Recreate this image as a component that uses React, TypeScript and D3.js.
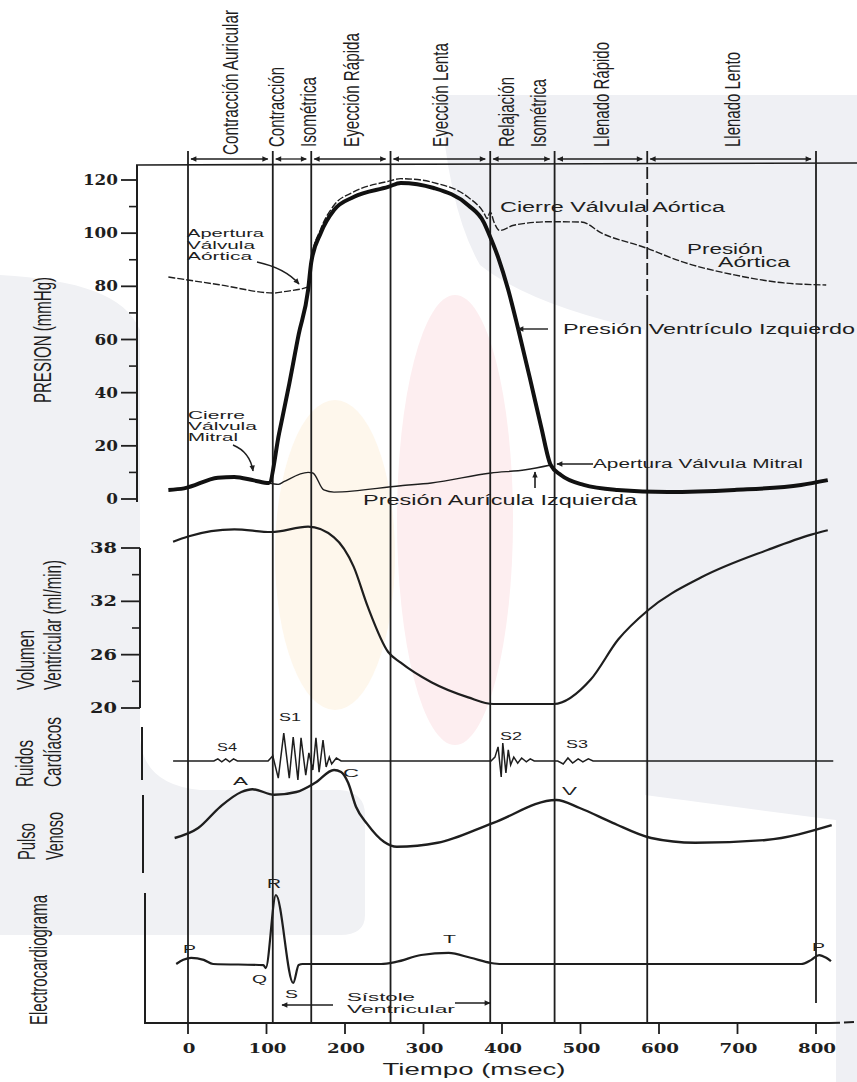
import React from 'react';
import * as d3 from 'd3';

const W = 857;
const H = 1082;

// phase boundaries (msec) and names
const phaseTimes = [0, 108, 157, 258, 385, 467, 585, 800];
const phaseNames = [
  ['Contracción Auricular'],
  ['Contracción', 'Isométrica'],
  ['Eyección Rápida'],
  ['Eyección Lenta'],
  ['Relajación', 'Isométrica'],
  ['Llenado Rápido'],
  ['Llenado Lento'],
];

const timeTicks = [0, 100, 200, 300, 400, 500, 600, 700, 800];
const pressureTicks = [0, 20, 40, 60, 80, 100, 120];
const pressureMinor = [10, 30, 50, 70, 90, 110];
const volumeTicks = [20, 26, 32, 38];
const volumeMinor = [23, 29, 35];

// presion ventriculo izquierdo (mmHg)
const lvT = [-25, -5, 38, 59, 84, 103, 116, 129, 141, 153, 157, 169, 186, 211, 255, 271, 313, 357, 377, 383, 395, 408, 420, 437, 450, 462, 475, 504, 547, 611, 696, 781, 815];
const lvP = [3.4, 4, 8, 8.3, 7, 6, 24.6, 43.3, 61.9, 78.6, 89, 100, 108.7, 113.6, 117.4, 118.9, 117, 110.5, 104, 100, 91, 78.6, 64.7, 43.6, 27, 12.8, 9, 5.3, 3.4, 2.6, 3.4, 5.3, 7.1];

// presion aortica (mmHg)
const aoT = [-25, 40, 110, 122, 153, 157, 169, 186, 211, 255, 271, 297, 313, 357, 377, 381, 385, 390, 397, 415, 460, 501, 527, 580, 632, 696, 759, 813];
const aoP = [83.5, 80.6, 77.5, 78, 79.8, 90, 101.5, 110.5, 115.5, 119.5, 120.5, 120, 119, 113.5, 107.6, 105.5, 108, 104, 101, 103, 104.3, 104.2, 100, 94.8, 89, 84.3, 81.3, 80.5];

// presion auricula izquierda (mmHg)
const laT = [103, 115, 122, 153, 159, 173, 186, 271, 310, 386, 430, 462];
const laP = [6, 5.5, 6.5, 10, 9.8, 3.4, 2.6, 5, 6, 9.8, 11, 12.8];

// volumen ventricular
const volT = [-19, 0, 59, 106, 153, 186, 211, 229, 255, 271, 310, 357, 389, 466, 513, 548, 586, 654, 739, 794, 815];
const volV = [38.7, 39.3, 40.1, 39.8, 40.4, 39.2, 35.9, 31.4, 26.3, 25.1, 22.9, 21.2, 20.45, 20.45, 23.2, 27.7, 31.0, 34.7, 37.8, 39.5, 40.0];

// ruidos cardiacos (amplitud relativa)
const soundT = [-19, 33, 38, 43, 48, 53, 58, 63, 68,
  102, 108, 115, 122, 129, 134, 140, 144, 150, 154, 159, 163, 167, 172, 176, 180, 183, 189, 195,
  386, 391, 395, 399, 401, 405, 408, 411, 415, 420, 425, 431, 436, 441, 446,
  471, 478, 484, 490, 497, 503, 510, 516, 522, 822];
const soundA = [0, 0, 0.07, -0.03, 0.07, -0.03, 0.07, 0, 0,
  0, 0.17, -0.57, 0.93, -0.57, 0.8, -0.63, 0.77, -0.47, 0.27, -0.3, 0.77, -0.37, 0.7, -0.2, 0.13, -0.1, 0.1, 0,
  0, 0.13, 0.47, -0.53, 0.6, -0.4, 0.37, -0.13, 0.13, -0.07, 0.1, -0.03, 0.07, 0, 0,
  0, -0.1, 0.1, -0.07, 0.07, -0.03, 0.07, 0, 0, 0];

// pulso venoso (unidades relativas)
const vpT = [-17, 13, 41, 68, 82, 110, 138, 162, 186, 195, 204, 214, 228, 250, 266, 318, 389, 469, 499, 541, 590, 646, 736, 820];
const vpV = [1.5, 2.75, 5.4, 7.25, 7.6, 6.9, 7.25, 8.4, 10, 9.75, 8.4, 5.4, 3.3, 1.0, 0.4, 0.9, 3.4, 6.25, 5.25, 3.4, 1.5, 0.9, 1.25, 3.1];

// electrocardiograma (mV relativo)
const ecgT = [-15, -6, 4, 20, 32, 96, 99, 112, 134, 141, 146, 246, 265, 297, 332, 360, 386, 399, 781, 794, 804, 813, 819];
const ecgV = [0, 0.06, 0.09, 0.06, 0, -0.015, -0.06, 1.0, -0.275, -0.015, 0, 0, 0.03, 0.13, 0.16, 0.09, 0.015, 0, 0, 0.06, 0.13, 0.09, 0.04];

const ink = '#1e1e1e';
const sans = '"Liberation Sans", Arial, sans-serif';
const serif = '"DejaVu Serif", serif';

function Txt({ x, y, text, size, len, rot = false, sx = 1, anchor = 'start', weight = 'normal', family = sans }: any) {
  const transform = rot
    ? `translate(${x},${y}) scale(${sx},1) rotate(-90)`
    : undefined;
  return (
    <text
      x={rot ? 0 : x}
      y={rot ? 0 : y}
      transform={transform}
      fontSize={size}
      fontFamily={family}
      fontWeight={weight}
      textAnchor={anchor}
      textLength={len}
      lengthAdjust="spacingAndGlyphs"
      fill={ink}
    >
      {text}
    </text>
  );
}

export default function App() {
  const x = d3.scaleLinear().domain([0, 800]).range([188, 816]);
  const yP = d3.scaleLinear().domain([0, 120]).range([499, 180]);
  const yVol = d3.scaleLinear().domain([20, 38]).range([708, 548]);
  const ySnd = d3.scaleLinear().domain([-1, 1]).range([791, 731]);
  const yVen = d3.scaleLinear().domain([0, 10]).range([850, 770]);
  const yEcg = d3.scaleLinear().domain([0, 1]).range([964, 895]);

  const path = (ts: number[], vs: number[], y: any, curve: any = d3.curveMonotoneX) =>
    d3.line<number>().x((_, i) => x(ts[i])).y((d) => y(d)).curve(curve)(vs) || '';

  const arrowY = 159;
  const frameY = 165;
  const phaseX = phaseTimes.map((t) => x(t));
  const phaseLen = [[145], [80, 70], [114], [104], [70, 68], [105], [95]];
  const rs = 1.55;

  return (
    <svg width={W} height={H} style={{ position: 'absolute', left: 0, top: 0, background: '#fff' }}>
      <defs>
        <marker id="ah" viewBox="0 0 10 10" refX="9" refY="5" markerWidth="8" markerHeight="6"
          markerUnits="userSpaceOnUse" orient="auto-start-reverse">
          <path d="M0,0.5 L10,5 L0,9.5 z" fill={ink} />
        </marker>
      </defs>

      {/* marca de agua */}
      <g>
        <path d="M440,95 L857,95 L857,1082 L836,1082 L836,820 Q720,805 645,795 L645,330 Q530,305 480,265 Q448,210 440,95 Z"
          fill="#eff0f4" />
        <path d="M0,275 C80,280 125,295 140,330 L140,740 Q145,785 200,790 L340,790 Q365,792 365,815 L365,915 Q365,935 340,935 L0,935 Z"
          fill="#f0f1f4" />
        <ellipse cx={335} cy={555} rx={60} ry={155} fill="#fef7ec" />
        <ellipse cx={455} cy={520} rx={58} ry={225} fill="#fdeef0" />
      </g>

      {/* lineas de fase */}
      {phaseX.map((px, i) => (
        i === 6 ? (
          <g key={'pl' + i}>
            <line x1={px} x2={px} y1={151} y2={300} stroke={ink} strokeWidth={1.8} strokeDasharray="12,4" />
            <line x1={px} x2={px} y1={300} y2={1023} stroke={ink} strokeWidth={1.8} />
          </g>
        ) : (
          <line key={'pl' + i} x1={px} x2={px} y1={151} y2={i === phaseX.length - 1 ? 1003 : 1023}
            stroke={ink} strokeWidth={1.8} />
        )
      ))}

      {/* flechas de fase */}
      {phaseX.slice(0, -1).map((px, i) => (
        <line key={'pa' + i} x1={px + 3} x2={phaseX[i + 1] - 5} y1={arrowY} y2={arrowY}
          stroke={ink} strokeWidth={1.3} markerStart="url(#ah)" markerEnd="url(#ah)" />
      ))}
      <line x1={136} x2={W} y1={frameY} y2={frameY - 2} stroke={ink} strokeWidth={1.6} />

      {/* etiquetas de fase */}
      {phaseNames.map((names, i) => {
        const mid = (phaseX[i] + phaseX[i + 1]) / 2;
        return names.map((nm, j) => {
          const cx = names.length === 1 ? mid : mid + (j === 0 ? -16 : 16);
          return (
            <Txt key={'pn' + i + j} x={cx + 8} y={i === 0 ? 155 : 147} text={nm} size={14.5}
              len={phaseLen[i][j]} rot sx={rs} />
          );
        });
      })}

      {/* eje de presion */}
      <line x1={137} x2={137} y1={frameY} y2={502} stroke={ink} strokeWidth={2} />
      {pressureTicks.map((v) => (
        <g key={'pt' + v}>
          <line x1={121} x2={137} y1={yP(v)} y2={yP(v)} stroke={ink} strokeWidth={1.8} />
          <Txt x={118} y={yP(v) + 5} text={String(v)} size={14} weight="bold" family={serif}
            anchor="end" len={String(v).length * 11.7} />
        </g>
      ))}
      {pressureMinor.map((v) => (
        <line key={'pm' + v} x1={129} x2={137} y1={yP(v)} y2={yP(v)} stroke={ink} strokeWidth={1.6} />
      ))}
      <Txt x={51} y={403} text="PRESION (mmHg)" size={15} len={126} rot sx={rs} />

      {/* curvas de presion */}
      <path d={path(aoT, aoP, yP)} fill="none" stroke={ink} strokeWidth={1.4} strokeDasharray="7,2" />
      <path d={path(laT, laP, yP)} fill="none" stroke={ink} strokeWidth={1.4} />
      <path d={path(lvT, lvP, yP)} fill="none" stroke="#111" strokeWidth={4} strokeLinejoin="round" />

      {/* anotaciones de presion */}
      <Txt x={187} y={237} text="Apertura" size={11.5} len={77} />
      <Txt x={187} y={249} text="Válvula" size={11.5} len={68} />
      <Txt x={187} y={260} text="Aórtica" size={11.5} len={65} />
      <path d="M257,262 Q285,268 299,284" fill="none" stroke={ink} strokeWidth={1.4} markerEnd="url(#ah)" />

      <Txt x={188} y={419} text="Cierre" size={11.5} len={57} />
      <Txt x={188} y={430} text="Válvula" size={11.5} len={69} />
      <Txt x={188} y={441} text="Mitral" size={11.5} len={50} />
      <path d="M233,445 Q250,452 253,471" fill="none" stroke={ink} strokeWidth={1.4} markerEnd="url(#ah)" />

      <Txt x={500} y={212} text="Cierre Válvula Aórtica" size={14} len={225} />
      <Txt x={687} y={254} text="Presión" size={14} len={76} />
      <Txt x={718} y={267} text="Aórtica" size={14} len={72} />
      <Txt x={563} y={334} text="Presión Ventrículo Izquierdo" size={15} len={292} />
      <line x1={548} x2={518} y1={329} y2={329} stroke={ink} strokeWidth={1.4} markerEnd="url(#ah)" />
      <Txt x={593} y={468} text="Apertura Válvula Mitral" size={12.5} len={210} />
      <line x1={593} x2={557} y1={464} y2={464} stroke={ink} strokeWidth={1.4} markerEnd="url(#ah)" />
      <line x1={535} x2={535} y1={488} y2={472} stroke={ink} strokeWidth={1.6} markerEnd="url(#ah)" />
      <Txt x={363} y={505} text="Presión Aurícula Izquierda" size={14} len={274} />

      {/* volumen */}
      <line x1={140} x2={140} y1={548} y2={708} stroke={ink} strokeWidth={2} />
      {volumeTicks.map((v) => (
        <g key={'vt' + v}>
          <line x1={121} x2={140} y1={yVol(v)} y2={yVol(v)} stroke={ink} strokeWidth={1.8} />
          <Txt x={117} y={yVol(v) + 5} text={String(v)} size={14} weight="bold" family={serif}
            anchor="end" len={27} />
        </g>
      ))}
      {volumeMinor.map((v) => (
        <line key={'vm' + v} x1={132} x2={140} y1={yVol(v)} y2={yVol(v)} stroke={ink} strokeWidth={1.6} />
      ))}
      <Txt x={34} y={690} text="Volumen" size={15} len={60} rot sx={rs} />
      <Txt x={61} y={690} text="Ventricular (ml/min)" size={15} len={130} rot sx={rs} />
      <path d={path(volT, volV, yVol)} fill="none" stroke={ink} strokeWidth={2.2} />

      {/* ruidos cardiacos */}
      <line x1={142} x2={142} y1={727} y2={780} stroke={ink} strokeWidth={2} />
      <Txt x={33} y={787} text="Ruidos" size={15} len={47} rot sx={rs} />
      <Txt x={61} y={787} text="Cardíacos" size={15} len={70} rot sx={rs} />
      <path d={path(soundT, soundA, ySnd, d3.curveLinear)} fill="none" stroke={ink} strokeWidth={1.5} />
      <Txt x={217} y={751} text="S4" size={11} len={20} />
      <Txt x={279} y={721} text="S1" size={11} len={22} />
      <Txt x={500} y={740} text="S2" size={11} len={22} />
      <Txt x={566} y={748} text="S3" size={11} len={22} />

      {/* pulso venoso */}
      <line x1={143} x2={143} y1={795} y2={873} stroke={ink} strokeWidth={2} />
      <Txt x={35} y={860} text="Pulso" size={15} len={37} rot sx={rs} />
      <Txt x={63} y={860} text="Venoso" size={15} len={48} rot sx={rs} />
      <path d={path(vpT, vpV, yVen)} fill="none" stroke={ink} strokeWidth={2.4} />
      <Txt x={233} y={785} text="A" size={11} len={15} />
      <Txt x={343} y={777} text="C" size={11} len={16} />
      <Txt x={562} y={795} text="V" size={11} len={15} />

      {/* electrocardiograma */}
      <line x1={145} x2={145} y1={893} y2={1024} stroke={ink} strokeWidth={2} />
      <Txt x={47} y={1025} text="Electrocardiograma" size={15} len={130} rot sx={rs} />
      <path d={path(ecgT, ecgV, yEcg)} fill="none" stroke={ink} strokeWidth={2.2} />
      <Txt x={183} y={953} text="P" size={11} len={13} />
      <Txt x={267} y={888} text="R" size={12} len={14} />
      <Txt x={252} y={983} text="Q" size={11} len={15} />
      <Txt x={285} y={998} text="S" size={11} len={13} />
      <Txt x={443} y={943} text="T" size={11} len={13} />
      <Txt x={812} y={951} text="P" size={11} len={13} />
      <Txt x={347} y={1001} text="Sístole" size={11} len={68} />
      <Txt x={347} y={1013} text="Ventricular" size={11} len={108} />
      <line x1={333} x2={282} y1={1005} y2={1005} stroke={ink} strokeWidth={1.5} markerEnd="url(#ah)" />
      <line x1={455} x2={490} y1={1003} y2={1003} stroke={ink} strokeWidth={1.5} markerEnd="url(#ah)" />

      {/* eje de tiempo */}
      <line x1={144} x2={830} y1={1023} y2={1023} stroke={ink} strokeWidth={2} />
      <line x1={830} x2={W} y1={1023} y2={1022} stroke={ink} strokeWidth={2} strokeDasharray="10,4" />
      {timeTicks.map((t) => (
        <g key={'tt' + t}>
          <line x1={x(t)} x2={x(t)} y1={1023} y2={1034} stroke={ink} strokeWidth={1.8} />
          <Txt x={x(t) + 1} y={1053} text={String(t)} size={13} weight="bold" family={serif}
            anchor="middle" len={String(t).length * 12.7} />
        </g>
      ))}
      <Txt x={474} y={1075} text="Tiempo (msec)" size={17} len={183} anchor="middle" />
    </svg>
  );
}
